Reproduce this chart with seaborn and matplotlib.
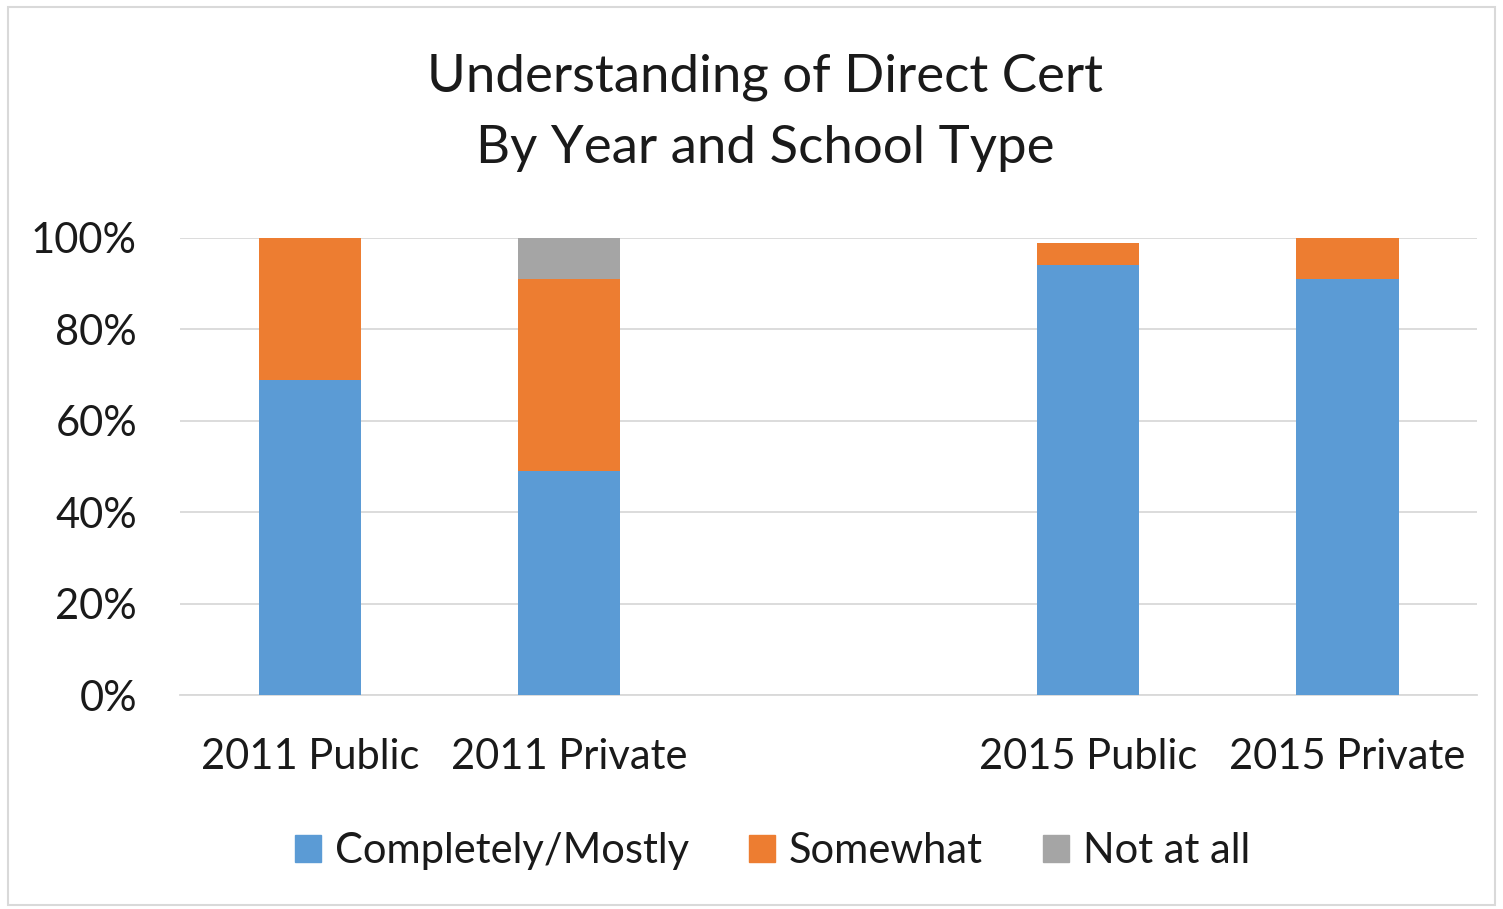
import matplotlib.pyplot as plt
import matplotlib.patches as mpatches
import seaborn as sns
import numpy as np
import pandas as pd

# chart data (fractions of respondents)
categories = ["2011 Public", "2011 Private", " ", "2015 Public", "2015 Private"]
completely_mostly = [0.69, 0.49, np.nan, 0.94, 0.91]
somewhat = [0.31, 0.42, np.nan, 0.05, 0.09]
not_at_all = [0.00, 0.09, np.nan, 0.00, 0.00]

series_names = ["Completely/Mostly", "Somewhat", "Not at all"]
colors = ["#5B9BD5", "#ED7D31", "#A5A5A5"]

sns.set_style("white")
plt.rcParams["font.family"] = ["Lato", "DejaVu Sans"]
text_color = "#1A1A1A"

df = pd.DataFrame({
    "category": categories,
    "Completely/Mostly": completely_mostly,
    "Somewhat": somewhat,
    "Not at all": not_at_all,
})
# cumulative tops for stacking, drawn back to front
df["top1"] = df["Completely/Mostly"]
df["top2"] = df["top1"] + df["Somewhat"]
df["top3"] = df["top2"] + df["Not at all"]

fig = plt.figure(figsize=(15.03, 9.09), dpi=100)
ax = fig.add_axes([0.1198, 0.2354, 0.8629, 0.5028])

for col, color in zip(["top3", "top2", "top1"], colors[::-1]):
    sns.barplot(data=df, x="category", y=col, order=categories, color=color,
                width=0.395, saturation=1, linewidth=0, ax=ax, zorder=3)

ax.set_ylim(0, 1)
ax.set_xlim(-0.5, len(categories) - 0.5)
ax.set_yticks(np.arange(0, 1.01, 0.2))
ax.set_yticklabels([f"{int(round(v * 100))}%" for v in np.arange(0, 1.01, 0.2)])
ax.yaxis.grid(True, color="#D9D9D9", linewidth=1.3, zorder=0)
ax.set_axisbelow(True)
for s in ["top", "right", "left"]:
    ax.spines[s].set_visible(False)
ax.spines["bottom"].set_color("#D9D9D9")
ax.spines["bottom"].set_linewidth(1.3)
ax.set_xlabel("")
ax.set_ylabel("")
ax.tick_params(axis="both", length=0, labelsize=30, colors=text_color)
ax.tick_params(axis="x", pad=31)
ax.tick_params(axis="y", pad=31)

fig.text(0.509, 0.876, "Understanding of Direct Cert\nBy Year and School Type",
         ha="center", va="center", fontsize=38, color=text_color, linespacing=1.62)

handles = [mpatches.Patch(color=c, label=n) for c, n in zip(colors, series_names)]
fig.legend(handles=handles, loc="center", bbox_to_anchor=(0.514, 0.064), ncol=3,
           frameon=False, fontsize=30, handlelength=0.62, handleheight=0.62,
           handletextpad=0.34, columnspacing=1.44, labelcolor=text_color)

# light border around the whole chart
fig.patches.append(mpatches.Rectangle((0.005, 0.004), 0.99, 0.988, transform=fig.transFigure,
                                      fill=False, edgecolor="#D9D9D9", linewidth=1.5))

fig.savefig("out.png", dpi=100)
